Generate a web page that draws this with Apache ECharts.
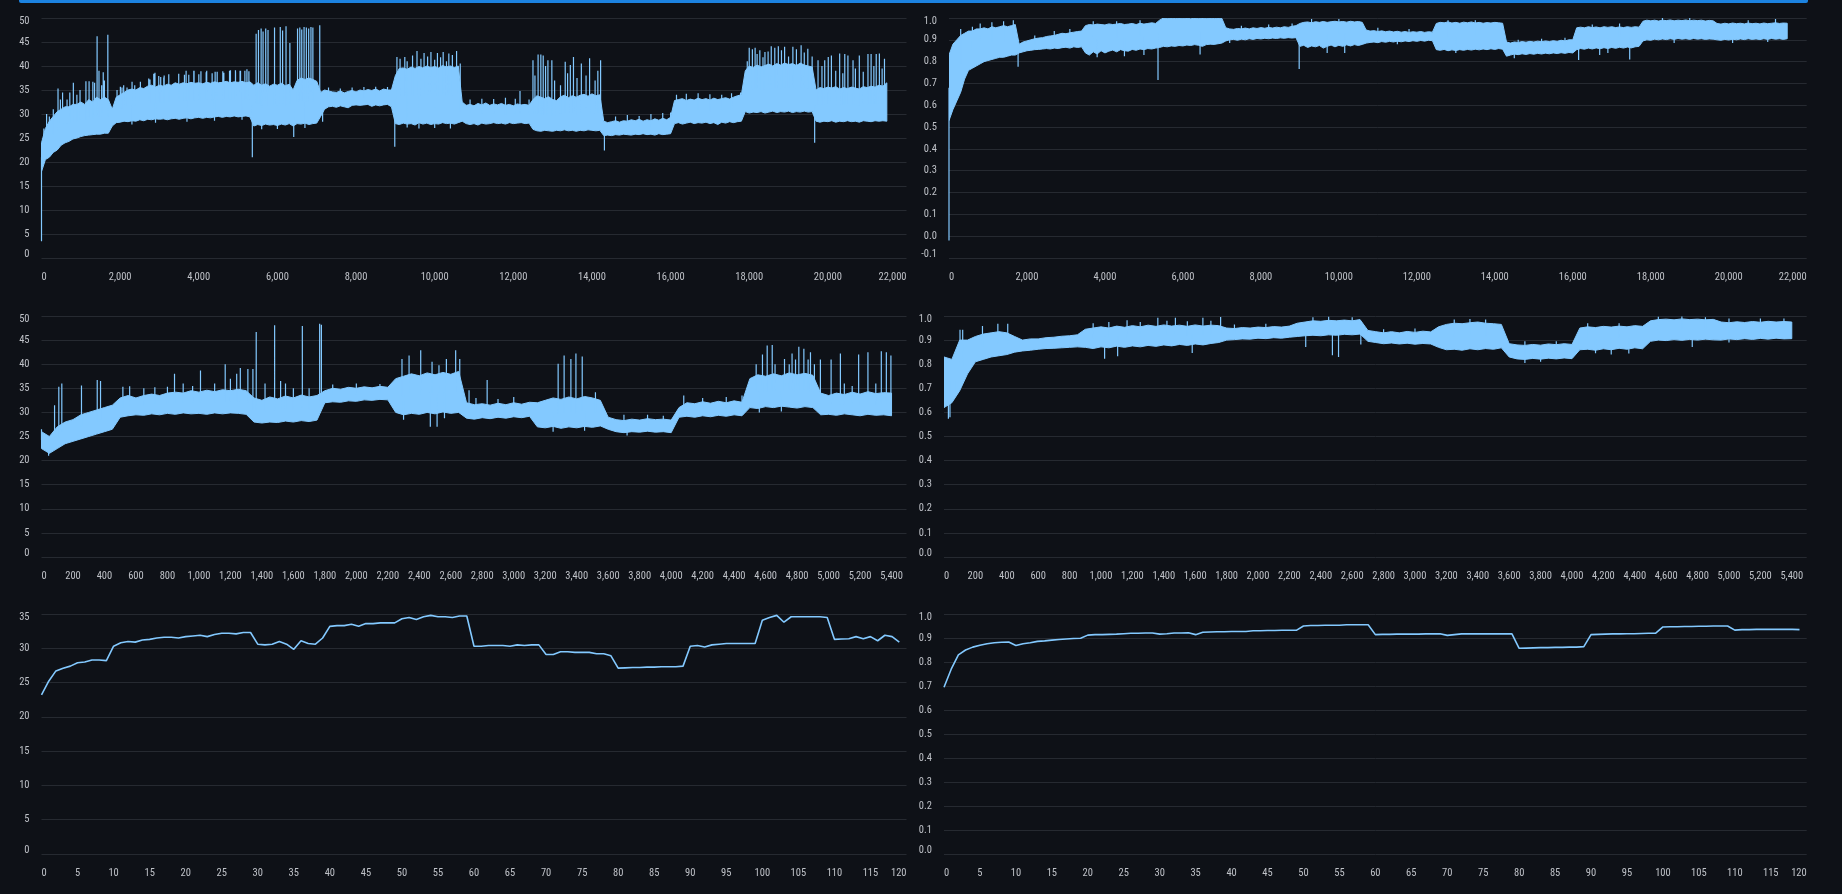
<!DOCTYPE html>
<html><head><meta charset="utf-8">
<script src="https://cdn.jsdelivr.net/npm/echarts@6/dist/echarts.min.js"></script>
<style>html,body{margin:0;padding:0;background:#0e1117;overflow:hidden}#c{width:1842px;height:894px}</style>
</head><body><div id="c"></div><script>
// ---------- data ----------
const STEP_LONG = 100;   // sample spacing of envelope points, panels 1-2
const STEP_MID = 50;     // sample spacing of envelope points, panels 3-4

const p1Lo = [18,20.5,21,22,22.5,23.5,24,24.3,24.8,25,25.3,25.5,25.6,25.7,25.8,25.8,26,26,
27.5,28.2,28.3,28.5,28.4,28.6,28.5,28.8,28.6,28.9,28.8,29,28.9,29,28.8,29,29.1,28.9,29.1,29.2,29,29.2,29.3,29.1,29.3,29.2,29.4,29.5,29.3,29.5,29.4,29.6,29.4,29.5,29.6,29.4,
27.5,27.8,27.6,27.9,27.7,27.8,27.6,27.9,27.7,28,27.5,28,27.9,28.1,27.8,28,28.1,
29.5,31,31.5,31.6,31.4,31.7,31.5,31.3,31.8,31.9,31.8,31.9,32,31.6,31.9,31.7,31.9,32,31.5,
28,27.8,28.1,27.9,28,27.7,28.2,27.9,28.1,27.8,28,27.9,28.2,28,28.1,27.9,28.2,
28.5,28,27.8,28,27.7,28.1,27.9,28,28.2,28,28.1,27.9,28.2,28,28.1,28.2,28,28.1,
26.8,26.5,26.4,26.6,26.5,26.4,26.6,26.5,26.7,26.5,26.6,26.4,26.6,26.5,26.7,26.6,26.5,26.6,
25.5,25.6,25.5,25.7,25.6,25.8,25.7,25.6,25.8,25.7,25.9,25.7,25.8,25.6,25.9,25.7,25.8,25.9,
28,28.2,27.9,28.1,28.3,28,28.2,28.1,28.3,28,28.2,27.8,28.3,28.1,28.4,28.2,28.4,28.5,
30.5,30.2,30.4,30.3,30.5,30.2,30.4,30.6,30.3,30.5,30.4,30.6,30.3,30.5,30.4,30.6,30.4,30.5,
28.5,28.3,28.5,28.4,28.6,28.3,28.5,28.4,28.6,28.4,28.5,28.3,28.6,28.5,28.4,28.6,28.5,28.6,28.5];
const p1Hi = [24,27,28.5,29.5,30.5,31,31.5,31.5,32,32,32.5,32,33,32.5,33.5,33,33.5,33,
31,33.5,34,34.5,35,35.2,35,35.5,35.3,35.8,36,35.6,36,35.8,36.2,36,36.5,36.2,36.5,36.3,36.6,36.4,36.5,36.3,36.6,36.4,36.7,36.5,36.6,36.8,36.5,36.7,36.6,36.8,36.5,36.7,
36,36.5,36,36.3,35.8,36.2,36,36.4,35.9,36.2,35,37,37.5,37.2,37.5,37.2,36.8,
34.5,35,34.8,34.6,34.5,34.8,34.4,34.7,34.9,34.6,35,34.8,35.1,34.9,35.2,34.8,35.2,35,35,
38,39.5,39.6,39.3,39.8,39.5,39.9,39.6,40,39.7,39.9,39.6,40.1,39.8,40,39.7,40,
32.5,31.8,32,31.7,32.2,31.9,32.3,31.8,32.1,31.9,32.2,31.8,32,31.7,32.1,31.9,32,31.8,
33,33.8,33.5,33.2,33.6,33,32.8,33.6,33.9,33.4,33.8,33.5,33.9,34.1,33.7,34.2,33.8,34,
28.5,28.2,28.4,28.6,28.3,28.6,28.5,28.8,28.6,28.9,28.5,28.8,28.6,29,28.7,29.1,28.8,29.3,
32.8,33,33.2,32.8,33.1,32.9,33.3,33,33.2,32.9,33.3,33,33.2,33.4,33.1,33.5,33.8,34,
39,40,39.7,40.2,39.8,40.1,40.4,40,40.5,40.2,40.6,40.3,40.5,40.1,40.6,40.2,40,39.8,
35,35.5,35.3,35.6,35.4,35.7,35.2,35.5,35.3,35.6,35.4,35.2,35.7,35.5,35.8,35.6,36,35.8,36.5];
// single excursions above / below the band: [sample, value]
const p1Spikes = [[0,3.5],[60,27],[130,30],[200,29.5],[300,31],[420,35.3],[480,33],[536,34.5],[650,33],[720,34.5],[810,36.5],[900,34],[980,35],[1130,36.8],[1210,36.8],[1306,36.7],[1350,36.5],[1414,46.2],[1462,39],[1530,36],[1570,38.7],[1600,37],[1687,46.5],
[1921,35],[2006,35.7],[2047,35.5],[2090,36],[2175,35.5],[2303,36.7],[2371,36],[2515,36.7],[2727,37.4],[2759,37.2],[2855,38.4],[2886,38.6],[2982,37.9],[3032,37.7],[3110,37.6],[3120,38],[3237,38.3],[3490,38.4],[3636,38.2],[3678,39],[3746,38.2],[3874,39],[3880,39],[4001,38.3],[4055,38.9],[4188,38.7],[4202,39],[4340,38.5],[4416,38.8],[4468,38.8],[4611,38.9],[4638,38.6],[4782,39],[4806,39.1],[4933,39.1],[4935,38.8],[5050,39],[5062,39],[5173,39],[5225,39.3],[5275,38.9],
[2300,27.8],[2900,28.2],[3700,28.4],[4400,28.6],[5100,28.8],
[5362,21],[5459,46.7],[5518,47.5],[5586,47.8],[5635,47.2],[5703,47.8],[5761,47.5],[5927,48],[6073,48.1],[6132,47.4],[6219,48.3],[6317,44.8],[6415,25.2],[6512,47.8],[6570,48],[6619,47.6],[6678,48.1],[6736,48],[6795,47.8],[6853,48.1],[6902,48],[7077,48.5],
[5600,26.8],[6000,26.9],[6700,27.1],
[7150,28.4],[7300,35.5],[7600,35.3],[7900,35.5],[8200,35.6],[8500,35.7],[8800,35.6],
[8985,23.2],[9040,41.9],[9120,41.5],[9240,41.9],[9300,41],[9437,42.2],[9550,43.1],[9650,41.5],[9730,42.7],[9820,42],[9905,42.9],[10000,41.3],[10070,42.7],[10150,41.8],[10216,42.9],[10300,41],[10360,42.6],[10450,42.3],[10557,43.1],[10650,40.5],
[9300,27.2],[9600,27],[10000,27.1],[10400,27],
[10900,33],[11200,33.2],[11500,33.1],[11800,33.4],[12050,33.2],[12170,34.8],[12400,33],
[12500,41.2],[12550,38],[12630,42.4],[12700,42.4],[12760,42.2],[12820,40],[12880,41.2],[12980,41.2],[13050,37],[13200,36],[13320,40.9],[13380,38.5],[13450,40.2],[13530,41.9],[13620,37.5],[13730,40.5],[13850,38],[13940,41.6],[14080,37],[14150,39],[14220,41.2],[14317,22.4],
[14600,29.5],[14900,29.8],[15200,29.6],[15500,30],[15800,30.2],[16000,30.3],
[16150,34],[16400,34.2],[16700,34.3],[17000,34.1],[17300,34],[17550,34.3],[17780,34.5],
[17950,41],[18000,43.8],[18080,43.5],[18150,43.8],[18200,42.5],[18270,43.3],[18350,41.8],[18400,42.9],[18480,43],[18560,44.1],[18650,43.8],[18740,44.1],[18820,43.3],[18900,44],[19000,42],[19110,44],[19200,43.5],[19320,44.3],[19400,42.8],[19490,43.6],[19600,42],[19664,24],
[19750,41.2],[19850,40],[19920,41.2],[20010,41.9],[20090,42.2],[20200,39],[20300,42.6],[20380,38.5],[20430,42.5],[20510,42.2],[20640,41.2],[20700,39.5],[20800,42.2],[20900,38.8],[21020,42.5],[21100,42.5],[21170,40],[21230,42.5],[21310,42.6],[21380,39.5],[21440,41.5]];

const p2Lo = [0.53,0.58,0.62,0.66,0.72,0.76,0.77,0.78,0.79,0.8,0.805,0.81,0.815,0.82,0.82,0.825,0.83,0.83,
0.84,0.845,0.85,0.852,0.855,0.856,0.858,0.86,0.858,0.862,0.86,0.864,0.866,0.862,0.868,0.865,0.868,
0.84,0.83,0.845,0.835,0.85,0.84,0.848,0.853,0.845,0.855,0.85,0.848,0.856,0.852,0.858,0.855,0.86,0.858,0.862,
0.865,0.87,0.868,0.872,0.87,0.874,0.872,0.876,0.874,0.878,0.875,0.87,0.878,0.88,0.879,0.882,0.885,
0.895,0.9,0.902,0.898,0.903,0.9,0.905,0.902,0.906,0.904,0.907,0.905,0.908,0.906,0.909,0.907,0.91,0.908,0.91,
0.87,0.875,0.865,0.872,0.868,0.874,0.862,0.87,0.876,0.868,0.875,0.87,0.877,0.872,0.878,0.874,0.879,
0.885,0.888,0.89,0.887,0.892,0.889,0.893,0.89,0.894,0.891,0.895,0.892,0.896,0.893,0.897,0.894,0.898,0.896,
0.855,0.852,0.856,0.85,0.854,0.851,0.855,0.852,0.856,0.853,0.857,0.854,0.858,0.855,0.859,0.856,0.86,0.857,
0.825,0.83,0.835,0.832,0.836,0.833,0.837,0.834,0.838,0.835,0.839,0.836,0.84,0.837,0.841,0.838,0.842,0.84,
0.855,0.86,0.857,0.862,0.858,0.863,0.859,0.864,0.86,0.865,0.861,0.866,0.862,0.867,0.863,0.868,0.87,
0.895,0.9,0.898,0.903,0.9,0.904,0.901,0.905,0.902,0.906,0.903,0.905,0.902,0.906,0.903,0.905,0.902,0.904,0.903,
0.9,0.898,0.902,0.899,0.903,0.9,0.904,0.901,0.905,0.902,0.904,0.901,0.905,0.902,0.906,0.903,0.905,0.902,0.905];
const p2Hi = [0.83,0.88,0.9,0.92,0.93,0.94,0.94,0.95,0.95,0.955,0.95,0.96,0.955,0.96,0.965,0.96,0.965,0.97,
0.88,0.89,0.895,0.9,0.905,0.908,0.91,0.915,0.918,0.92,0.925,0.93,0.928,0.932,0.935,0.938,0.94,
0.965,0.97,0.968,0.972,0.97,0.968,0.973,0.97,0.972,0.975,0.97,0.972,0.975,0.97,0.976,0.972,0.975,0.978,0.975,
0.99,1.0,0.998,1.0,0.997,1.0,0.998,1.0,0.996,1.0,0.998,1.0,0.998,1.0,0.997,1.0,0.998,
0.955,0.95,0.948,0.952,0.95,0.954,0.95,0.955,0.952,0.956,0.953,0.957,0.954,0.958,0.955,0.96,0.957,0.962,0.965,
0.975,0.98,0.982,0.978,0.983,0.98,0.984,0.98,0.983,0.985,0.982,0.984,0.981,0.985,0.982,0.984,0.98,
0.945,0.94,0.942,0.938,0.941,0.937,0.94,0.936,0.939,0.935,0.938,0.934,0.937,0.935,0.938,0.934,0.937,0.935,
0.975,0.98,0.978,0.982,0.977,0.98,0.976,0.981,0.978,0.982,0.977,0.98,0.976,0.979,0.977,0.98,0.978,0.976,
0.89,0.885,0.89,0.888,0.892,0.889,0.893,0.89,0.894,0.891,0.895,0.892,0.896,0.893,0.898,0.895,0.9,0.9,
0.955,0.958,0.955,0.96,0.956,0.959,0.955,0.96,0.957,0.96,0.956,0.959,0.956,0.96,0.957,0.96,0.958,
0.985,0.99,0.987,0.99,0.986,0.99,0.988,0.991,0.987,0.99,0.988,0.991,0.987,0.99,0.988,0.99,0.986,0.989,0.987,
0.975,0.972,0.976,0.973,0.977,0.974,0.976,0.973,0.977,0.974,0.976,0.973,0.977,0.974,0.976,0.978,0.975,0.977,0.976];
const p2Spikes = [[0,-0.02],[300,0.95],[600,0.96],[800,0.975],[1100,0.98],[1400,0.985],[1650,0.99],[1772,0.777],
[2200,0.92],[2700,0.94],[3100,0.95],[3700,0.985],[3800,0.82],[4300,0.985],[4500,0.825],[4900,0.99],[5000,0.83],[5361,0.716],[6440,0.833],
[7200,0.885],[7500,0.965],[8200,0.97],[8800,0.975],[8982,0.766],[9300,0.995],[9700,0.84],[10000,0.995],[10150,0.84],
[11000,0.955],[11500,0.88],[11800,0.95],[12800,0.99],[13000,0.84],[13500,0.99],[14500,0.815],[14600,0.9],[15200,0.905],[15800,0.91],
[16150,0.807],[16500,0.97],[16690,0.83],[16900,0.84],[17200,0.975],[17460,0.81],[18300,1.0],[18600,0.885],[19000,1.0],[20100,0.885],[20500,0.99],[21000,0.89],[21200,0.995]];

const p3Lo = [22.5,21.5,22.5,23.5,24,24.5,25,25.5,26,26.5,
29,29.3,29.5,29.4,29.7,29.5,29.8,29.6,29.9,29.7,29.8,29.6,29.9,29.7,29.9,29.8,29.6,
28,27.8,28,27.9,28.2,28,28.3,28.1,28.4,
32,32.2,32.1,32.4,32.3,32.6,32.5,32.7,32.6,
30,29.5,29.8,29.6,30,29.7,30.1,29.8,30,
28.8,28.6,28.9,28.7,29,28.8,29.1,28.9,29.2,
27,26.8,27.1,26.7,27,26.8,27.1,26.9,27.2,
26.5,26,25.8,26,25.9,26.1,25.9,26,25.8,
29,29.2,29,29.3,29.1,29.4,29.2,29.5,29.3,
31,30.8,31.2,31,31.3,31.1,30.9,31.2,31,
29.5,29.6,29.4,29.7,29.5,29.3,29.6,29.4,29.5,29.3];
const p3Hi = [26,25,27,28,28.5,29.5,30,30.5,31,31.5,
33,33.5,33,33.5,33.8,33.5,34,34.2,34,34.5,34.2,34.6,34.3,34.7,34.5,34.8,34.5,
33,32.5,33.2,32.8,33.4,33,33.6,33.2,33.5,
34.5,35,34.8,35.2,35,35.3,35.1,35.4,35.2,
37,37.5,38,37.6,38.2,37.8,38.3,37.9,38.5,
32,31.6,31.8,31.5,31.9,31.6,32,31.7,32.1,
32,32.5,33,32.7,33.2,32.8,33.3,33,32.5,
29,28.5,28.3,28.6,28.4,28.7,28.5,28.6,28.4,
31,32,31.8,32.2,31.9,32.3,32,32.4,32.1,
37,37.8,37.5,38,37.6,38.2,37.8,38.1,37.7,
34,33.5,34,33.7,34.2,33.8,34.3,33.9,34.1,34];
const p3Spikes = [[0,26.5],[45,21],[83,31.5],[110,35.3],[129,36],[254,35.6],[354,36.7],[375,36.5],[517,35.3],[560,35.4],[650,35],[720,35.2],[800,35.3],[845,38],[900,36],[960,35.5],[1010,38.7],[1100,36],[1167,40],[1200,37],[1240,38],[1263,39.2],[1311,39],[1343,39],
[1364,46.7],[1420,36],[1481,48.1],[1519,36.5],[1550,36],[1600,35],[1657,47.9],[1700,35],[1767,48.4],[1778,48.2],[1850,35.8],[2000,36],[2150,35.9],
[2290,41.1],[2300,28.5],[2335,41.8],[2409,42.9],[2470,27],[2481,40.5],[2513,27],[2525,39.8],[2560,28.8],[2572,41.1],[2631,42.9],[2657,41.1],
[2716,34.6],[2760,33],[2831,36.7],[2900,32.8],[3000,33.2],[3250,26],[3282,40.1],[3320,41.8],[3363,41.1],[3395,42.2],[3435,41.6],[3450,26.2],[3519,34.2],
[3700,29.5],[3720,25.2],[3850,29.5],[3950,29.3],[4080,33.5],[4200,33],[4350,33.2],[4450,33.5],
[4540,40],[4560,30],[4580,42],[4610,43.9],[4642,44],[4660,40],[4700,30.2],[4720,41.1],[4750,40],[4768,42.2],[4790,41],[4811,43.6],[4843,43.2],[4870,41],[4885,42.5],[4910,40],[4948,41],
[5016,41],[5075,42.2],[5100,36],[5150,35.5],[5191,42],[5250,42.5],[5300,36],[5335,42.7],[5367,42.5],[5396,41.8]];

const p4Lo = [0.62,0.64,0.69,0.76,0.81,0.82,0.83,0.835,0.84,0.85,
0.855,0.858,0.862,0.865,0.866,0.868,0.87,0.872,
0.87,0.865,0.872,0.868,0.875,0.87,0.876,0.872,0.878,0.874,0.88,0.876,0.882,0.878,0.884,0.88,0.886,0.89,
0.9,0.902,0.905,0.904,0.908,0.906,0.91,0.908,0.912,
0.915,0.918,0.92,0.918,0.922,0.92,0.924,0.922,0.925,
0.895,0.89,0.885,0.888,0.884,0.887,0.883,0.886,0.884,
0.87,0.86,0.862,0.858,0.864,0.86,0.865,0.862,0.868,
0.83,0.822,0.82,0.824,0.821,0.825,0.822,0.826,0.823,
0.86,0.862,0.858,0.864,0.86,0.866,0.862,0.868,0.864,
0.895,0.9,0.898,0.902,0.899,0.903,0.9,0.904,0.901,
0.9,0.905,0.902,0.906,0.903,0.907,0.904,0.908,0.905,0.906];
const p4Hi = [0.83,0.82,0.9,0.9,0.915,0.925,0.93,0.935,0.93,0.915,
0.9,0.905,0.905,0.91,0.912,0.916,0.918,0.922,
0.945,0.95,0.955,0.95,0.958,0.953,0.96,0.955,0.962,0.957,0.963,0.958,0.962,0.957,0.963,0.958,0.962,0.96,
0.95,0.948,0.952,0.95,0.954,0.952,0.956,0.954,0.958,
0.97,0.975,0.98,0.978,0.982,0.98,0.983,0.98,0.985,
0.94,0.935,0.93,0.935,0.93,0.936,0.932,0.937,0.934,
0.955,0.965,0.97,0.968,0.972,0.975,0.97,0.968,0.965,
0.885,0.88,0.878,0.882,0.879,0.884,0.881,0.885,0.882,
0.95,0.955,0.952,0.957,0.954,0.958,0.955,0.96,0.957,
0.98,0.985,0.987,0.984,0.988,0.985,0.987,0.984,0.986,
0.975,0.972,0.976,0.973,0.977,0.974,0.978,0.975,0.977,0.975];
const p4Spikes = [[6,0.66],[28,0.574],[38,0.58],[70,0.685],[102,0.943],[119,0.943],[245,0.958],[343,0.968],[406,0.968],
[950,0.97],[1023,0.823],[1050,0.975],[1106,0.833],[1166,0.982],[1250,0.975],[1362,0.993],[1420,0.98],[1474,0.993],[1550,0.978],[1581,0.846],[1649,0.993],[1700,0.98],[1762,0.996],
[1850,0.965],[2050,0.968],[2304,0.871],[2350,0.995],[2450,0.997],[2474,0.837],[2513,0.83],[2600,0.995],[2655,0.882],
[2800,0.945],[3000,0.948],[3250,0.985],[3350,0.988],[3450,0.985],[3700,0.895],[3700,0.805],[3800,0.81],[3900,0.895],
[4100,0.97],[4150,0.845],[4250,0.84],[4300,0.97],[4362,0.844],[4550,0.997],[4700,0.998],[4766,0.871],[4850,0.995],[5000,0.99],[5000,0.89],[5200,0.99],[5350,0.99]];

const p5 = [23.2,25.2,26.7,27.1,27.4,27.9,28.0,28.3,28.3,28.2,30.3,30.8,31.0,30.9,31.2,31.3,31.5,31.6,31.6,31.5,
31.7,31.8,31.9,31.7,32.0,32.2,32.2,32.1,32.3,32.3,30.6,30.5,30.6,31.0,30.6,29.85,31.1,30.7,30.6,31.5,
33.2,33.3,33.3,33.5,33.2,33.6,33.6,33.7,33.7,33.7,34.3,34.5,34.2,34.6,34.8,34.6,34.6,34.5,34.7,34.7,
30.3,30.3,30.4,30.4,30.4,30.3,30.5,30.4,30.5,30.5,29.1,29.1,29.5,29.5,29.4,29.4,29.4,29.2,29.2,28.9,
27.1,27.15,27.2,27.2,27.25,27.25,27.3,27.3,27.3,27.4,30.3,30.4,30.2,30.5,30.6,30.7,30.7,30.7,30.7,30.7,
34.1,34.5,34.8,33.8,34.6,34.6,34.6,34.6,34.6,34.5,31.3,31.35,31.4,31.7,31.4,31.7,31.1,31.9,31.7,30.9];
const p6 = [0.695,0.77,0.83,0.85,0.862,0.87,0.876,0.88,0.882,0.883,0.869,0.876,0.88,0.886,0.888,0.891,0.894,0.896,0.898,0.899,
0.912,0.914,0.914,0.915,0.916,0.918,0.92,0.92,0.921,0.921,0.916,0.918,0.921,0.921,0.922,0.914,0.924,0.925,0.926,0.926,
0.927,0.927,0.927,0.93,0.93,0.931,0.931,0.932,0.932,0.932,0.95,0.952,0.952,0.953,0.953,0.953,0.955,0.955,0.955,0.955,
0.914,0.915,0.915,0.916,0.916,0.916,0.916,0.917,0.917,0.918,0.911,0.914,0.917,0.917,0.917,0.917,0.917,0.917,0.917,0.917,
0.857,0.858,0.859,0.86,0.86,0.861,0.861,0.862,0.862,0.864,0.914,0.915,0.916,0.917,0.917,0.918,0.918,0.919,0.92,0.92,
0.946,0.947,0.947,0.948,0.948,0.949,0.949,0.95,0.95,0.95,0.933,0.935,0.935,0.936,0.936,0.936,0.936,0.936,0.936,0.935];

// ---------- styling ----------
const BG = '#0e1117', LINEC = '#83c9ff', GRIDC = '#262a31', LABELC = '#bfc2c8';
const FONT = "'Liberation Sans Narrow','Roboto Condensed',Roboto,sans-serif";
const FS = 10.5;

const grids = [
  {left:41.5, top:18, width:865, height:240},
  {left:949, top:18, width:857.7, height:240},
  {left:41.5, top:316, width:865, height:241},
  {left:944, top:316, width:862.7, height:241},
  {left:41.5, top:614, width:865, height:240},
  {left:944, top:614, width:862.7, height:240}
];

function xAxis(i, max, interval, hideMax) {
  return {type:'value', gridIndex:i, min:0, max:max, interval:interval,
    axisLine:{show:false}, axisTick:{show:false}, splitLine:{show:false},
    axisLabel:{color:LABELC, fontFamily:FONT, fontSize:FS, margin:14,
      alignMinLabel:'left', alignMaxLabel:'right', showMaxLabel: !hideMax, showMinLabel:true}};
}
function yAxis(i, min, max, interval, dec) {
  return {type:'value', gridIndex:i, min:min, max:max, interval:interval,
    axisLine:{show:false}, axisTick:{show:false},
    splitLine:{show:true, lineStyle:{color:GRIDC, width:1}},
    axisLabel:{color:LABELC, fontFamily:FONT, fontSize:FS, margin:12, lineHeight:7,
      verticalAlignMinLabel:'bottom', verticalAlignMaxLabel:'top',
      showMinLabel:true, showMaxLabel:true,
      formatter: v => dec ? v.toFixed(1) : String(Math.round(v))}};
}

// band of a dense noisy series: polygon between lower and upper envelope, mapped by the axes
function bandSeries(i, step, lo, hi, spikes) {
  const sp = [];
  spikes.forEach(([x, v]) => {
    const k = Math.max(0, Math.min(lo.length - 1, Math.round(x / step)));
    const mid = (lo[k] + hi[k]) / 2;
    sp.push([x, mid], [x, v], [x, mid], [x, '-']);
  });
  return [
    {type:'custom', xAxisIndex:i, yAxisIndex:i, silent:true, animation:false, clip:true, z:2,
      data: lo.map((v, k) => [k * step, v, hi[k]]),
      encode:{x:0, y:[1, 2]},
      renderItem: (params, api) => {
        if (params.dataIndex !== 0) return null;
        const pts = [];
        for (let k = 0; k < lo.length; k++) pts.push(api.coord([k * step, lo[k]]));
        for (let k = hi.length - 1; k >= 0; k--) pts.push(api.coord([k * step, hi[k]]));
        return {type:'polygon', shape:{points:pts}, style:{fill:LINEC, stroke:LINEC, lineWidth:1}};
      }},
    {type:'line', xAxisIndex:i, yAxisIndex:i, symbol:'none', silent:true, animation:false,
      data:sp, connectNulls:false, lineStyle:{color:LINEC, width:1.2}, z:3}
  ];
}
function plainSeries(i, vals) {
  return {type:'line', xAxisIndex:i, yAxisIndex:i, symbol:'none', silent:true, animation:false,
    data: vals.map((v, k) => [k, v]), lineStyle:{color:LINEC, width:1.6}, z:3};
}

const chart = echarts.init(document.getElementById('c'), null, {renderer:'canvas'});
chart.setOption({
  backgroundColor: BG,
  animation: false,
  grid: grids,
  xAxis: [xAxis(0, 22000, 2000), xAxis(1, 22000, 2000), xAxis(2, 5495, 200, true), xAxis(3, 5495, 200, true), xAxis(4, 120, 5), xAxis(5, 120, 5)],
  yAxis: [yAxis(0, 0, 50, 5, false), yAxis(1, -0.1, 1.0, 0.1, true), yAxis(2, 0, 50, 5, false), yAxis(3, 0, 1.0, 0.1, true), yAxis(4, 0, 35, 5, false), yAxis(5, 0, 1.0, 0.1, true)],
  series: [].concat(
    bandSeries(0, STEP_LONG, p1Lo, p1Hi, p1Spikes),
    bandSeries(1, STEP_LONG, p2Lo, p2Hi, p2Spikes),
    bandSeries(2, STEP_MID, p3Lo, p3Hi, p3Spikes),
    bandSeries(3, STEP_MID, p4Lo, p4Hi, p4Spikes),
    [plainSeries(4, p5), plainSeries(5, p6)]
  ),
  graphic: [{type:'rect', left:19, top:0, shape:{width:1789, height:3, r:[0,0,2,2]}, style:{fill:'#1c83e1'}, silent:true, z:100}]
});
</script></body></html>
